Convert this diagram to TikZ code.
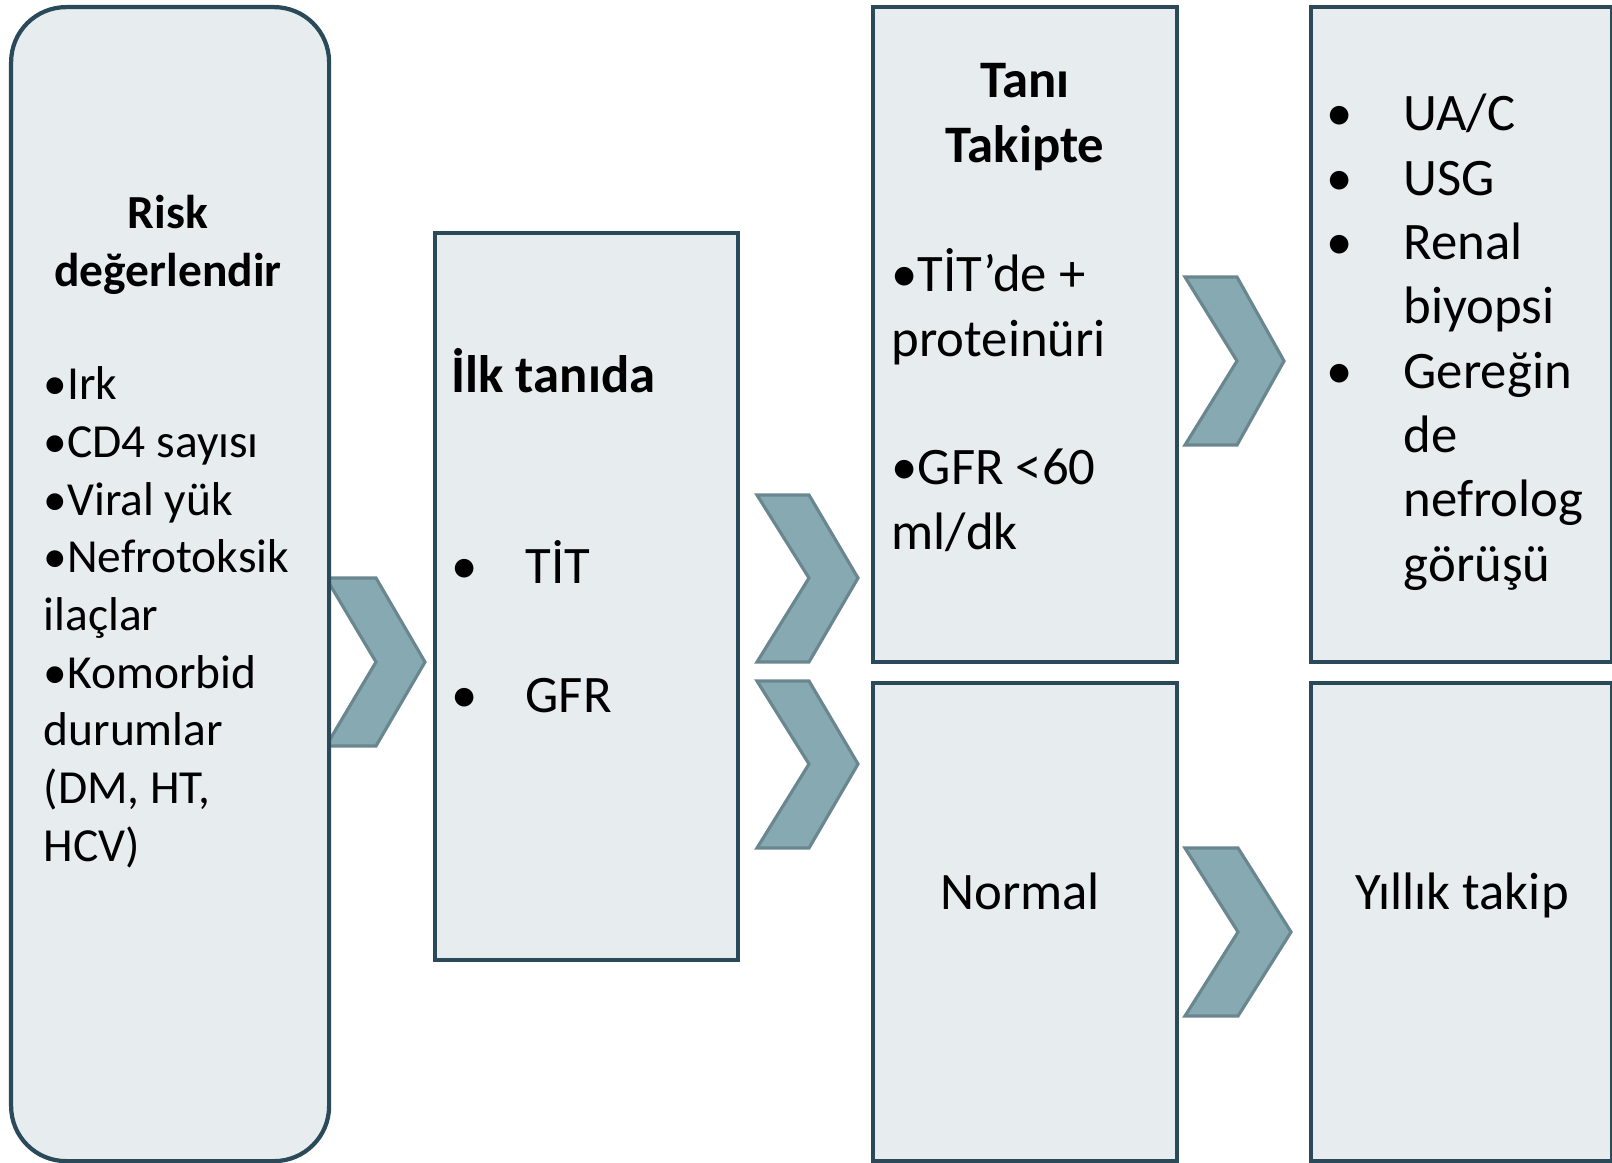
\documentclass[tikz,border=0pt]{standalone}
\usepackage{fontspec}
\setmainfont{Carlito}
\usetikzlibrary{calc}
\definecolor{bxfill}{HTML}{E7ECEF}
\definecolor{bxline}{HTML}{2A4A5A}
\definecolor{chfill}{HTML}{87A9B1}
\definecolor{chline}{HTML}{6A878F}

\begin{document}
\begin{tikzpicture}[x=1cm, y=1cm,
    box/.style={draw=bxline, fill=bxfill, line width=1.2pt, inner sep=0pt, anchor=north west},
    chev/.style={draw=chline, fill=chfill, line width=0.9pt, line join=miter},
    small/.style={inner sep=0pt, font=\fontsize{13.5}{16.4}\selectfont},
    large/.style={inner sep=0pt, font=\fontsize{15}{18.3}\selectfont},
  ]
  \useasboundingbox (0,0) rectangle (16.12,11.62);

  % chevrons first, so the box borders sit on top of them
  \draw[chev] (3.26,5.84) -- (3.76,5.84) -- (4.25,5.00) -- (3.76,4.16) -- (3.26,4.16) -- (3.76,5.00) -- cycle;
  \draw[chev] (7.57,6.67) -- (8.09,6.67) -- (8.58,5.84) -- (8.09,5.00) -- (7.57,5.00) -- (8.09,5.84) -- cycle;
  \draw[chev] (7.57,4.81) -- (8.09,4.81) -- (8.58,3.98) -- (8.09,3.14) -- (7.57,3.14) -- (8.09,3.98) -- cycle;
  \draw[chev] (11.85,8.85) -- (12.37,8.85) -- (12.84,8.01) -- (12.37,7.17) -- (11.85,7.17) -- (12.37,8.01) -- cycle;
  \draw[chev] (11.85,3.14) -- (12.38,3.14) -- (12.91,2.30) -- (12.38,1.46) -- (11.85,1.46) -- (12.38,2.30) -- cycle;

  % boxes
  \node[box, rounded corners=0.55cm, minimum width=3.18cm, minimum height=11.54cm] (risk) at (0.09,11.57) {};
  \node[box, minimum width=3.03cm, minimum height=7.27cm] (ilk) at (4.33,9.31) {};
  \node[box, minimum width=3.04cm, minimum height=6.55cm] (tani) at (8.71,11.57) {};
  \node[box, minimum width=3.01cm, minimum height=6.55cm] (ileri) at (13.09,11.57) {};
  \node[box, minimum width=3.04cm, minimum height=4.78cm] (normal) at (8.71,4.81) {};
  \node[box, minimum width=3.01cm, minimum height=4.78cm] (yillik) at (13.09,4.81) {};

  % texts, each anchored at the baseline of its last line
  % first column
  \node[small, align=center, anchor=base, font=\fontsize{13.5}{16.4}\selectfont\bfseries] (risktitle) at (1.68,8.76) {Risk\\değerlendir};
  \node[small, align=left, anchor=base west] (risklist) at (0.43,3.01)
    {•Irk\\•CD4 sayısı\\•Viral yük\\•Nefrotoksik\\ilaçlar\\•Komorbid\\durumlar\\(DM, HT,\\HCV)};

  % second column
  \node[large, anchor=base west, font=\fontsize{15}{18.3}\selectfont\bfseries] (ilktitle) at (4.51,7.70) {İlk tanıda};
  \node[large, align=left, anchor=base west] (ilklist) at (4.51,4.50)
    {\makebox[0.74cm][l]{•}TİT\\[18.3pt]\makebox[0.74cm][l]{•}GFR};

  % third column
  \node[large, align=center, anchor=base, font=\fontsize{15}{18.3}\selectfont\bfseries] (tanititle) at (10.25,10.00) {Tanı\\Takipte};
  \node[large, align=left, anchor=base west] (tanilist) at (8.91,6.13)
    {•TİT’de +\\proteinüri\\[18.3pt]•GFR <60\\ml/dk};
  \node[large, anchor=base] (normaltext) at (10.20,2.53) {Normal};

  % fourth column
  \node[large, align=left, anchor=base west] (ilerilist) at (13.26,5.81)
    {\makebox[0.77cm][l]{•}UA/C\\\makebox[0.77cm][l]{•}USG\\\makebox[0.77cm][l]{•}Renal\\\hspace*{0.77cm}biyopsi\\
     \makebox[0.77cm][l]{•}Gereğin\\\hspace*{0.77cm}de\\\hspace*{0.77cm}nefrolog\\\hspace*{0.77cm}görüşü};
  \node[large, anchor=base] (yilliktext) at (14.62,2.53) {Yıllık takip};
\end{tikzpicture}
\end{document}
